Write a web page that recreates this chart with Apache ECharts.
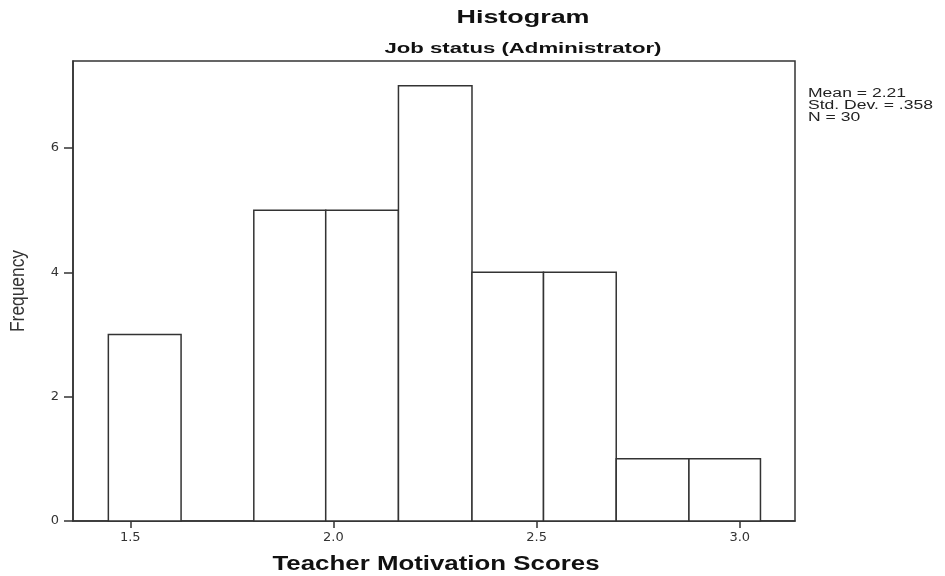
<!DOCTYPE html>
<html>
<head>
<meta charset="utf-8">
<script src="https://cdn.jsdelivr.net/npm/echarts@6/dist/echarts.min.js"></script>
<style>html,body{margin:0;padding:0;background:#fff;}#c{width:945px;height:576px;}</style>
</head>
<body>
<div id="c"></div>
<script>
const binEdges = [1.446, 1.625, 1.804, 1.981, 2.160, 2.341, 2.517, 2.696, 2.875, 3.051];
const counts = [3, 0, 5, 5, 7, 4, 4, 1, 1];
const xTicks = [1.5, 2.0, 2.5, 3.0];
const yTicks = [0, 2, 4, 6];
const statsLines = ['Mean = 2.21', 'Std. Dev. = .358', 'N = 30'];
const titleText = 'Histogram';
const subtitleText = 'Job status (Administrator)';
const xName = 'Teacher Motivation Scores';
const yName = 'Frequency';

const data = counts.map((c, i) => [binEdges[i], binEdges[i + 1], c]);

// measure text to mimic the horizontally stretched lettering of the reference
const mctx = document.createElement('canvas').getContext('2d');
function textW(t, font) { mctx.font = font; return mctx.measureText(t).width; }
function fitScale(t, font, target) { return target / textW(t, font); }

const FONT = '"Liberation Sans", Arial, sans-serif';
const fTitle = 'bold 18px ' + FONT;
const fSub = 'bold 15px ' + FONT;
const fX = 'bold 20px ' + FONT;
const fStats = '12px ' + FONT;
const fY = '15px ' + FONT;
const statsScale = fitScale(statsLines[1], fStats, 125);

const chart = echarts.init(document.getElementById('c'), null, {renderer: 'canvas'});
const lineCol = '#333';
chart.setOption({
  backgroundColor: '#fff',
  animation: false,
  graphic: [
    {type: 'text', x: 523, y: 18, scaleX: fitScale(titleText, fTitle, 133),
     style: {text: titleText, font: fTitle, fill: '#111', align: 'center', verticalAlign: 'middle'}},
    {type: 'text', x: 523, y: 49, scaleX: fitScale(subtitleText, fSub, 277),
     style: {text: subtitleText, font: fSub, fill: '#111', align: 'center', verticalAlign: 'middle'}},
    {type: 'text', x: 436, y: 564, scaleX: fitScale(xName, fX, 327),
     style: {text: xName, font: fX, fill: '#111', align: 'center', verticalAlign: 'middle'}},
    {type: 'text', x: 18, y: 291, rotation: Math.PI / 2, scaleX: fitScale(yName, fY, 82), scaleY: 1.35,
     style: {text: yName, font: fY, fill: '#333', align: 'center', verticalAlign: 'middle'}},
    {type: 'text', x: 808, y: 88, scaleX: statsScale,
     style: {text: statsLines.join('\n'), font: fStats, lineHeight: 12, fill: '#222', align: 'left', verticalAlign: 'top'}}
  ],
  grid: {left: 73, right: 150, top: 61, bottom: 55, show: true, borderColor: lineCol, borderWidth: 1.5, backgroundColor: '#fff'},
  xAxis: {
    type: 'value', min: 1.359, max: 3.136,
    axisLine: {show: true, lineStyle: {color: lineCol, width: 1.5}},
    axisTick: {show: true, length: 7, customValues: xTicks, lineStyle: {color: lineCol, width: 1.5}},
    axisLabel: {customValues: xTicks, formatter: v => v.toFixed(1), fontFamily: 'DejaVu Sans', fontSize: 13, color: '#333', margin: 10},
    splitLine: {show: false}
  },
  yAxis: {
    type: 'value', min: 0, max: 7.4,
    axisLine: {show: true, lineStyle: {color: lineCol, width: 1.5}},
    axisTick: {show: true, length: 9, customValues: yTicks, lineStyle: {color: lineCol, width: 1.5}},
    axisLabel: {customValues: yTicks, fontFamily: 'DejaVu Sans', fontSize: 13, color: '#333', margin: 14},
    splitLine: {show: false}
  },
  series: [{
    type: 'custom',
    data: data,
    renderItem: function (params, api) {
      const c = api.value(2);
      if (!c) return null;
      const p0 = api.coord([api.value(0), c]);
      const p1 = api.coord([api.value(1), 0]);
      return {
        type: 'rect',
        shape: {x: p0[0], y: p0[1], width: p1[0] - p0[0], height: p1[1] - p0[1]},
        style: {fill: '#fff', stroke: lineCol, lineWidth: 1.5}
      };
    },
    encode: {x: [0, 1], y: 2}
  }]
});
</script>
</body>
</html>
